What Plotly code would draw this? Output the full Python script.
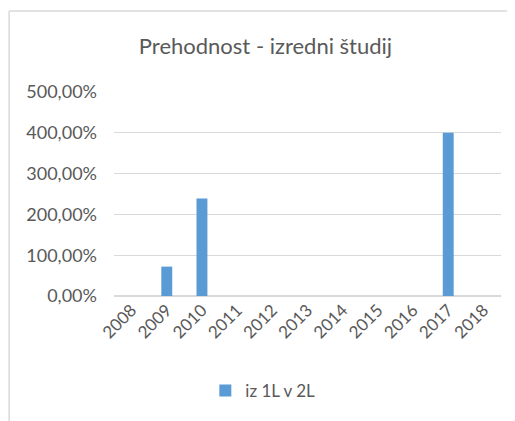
import plotly.graph_objects as go

# Data
years = ["2008", "2009", "2010", "2011", "2012", "2013", "2014", "2015", "2016", "2017", "2018"]
iz_1l_v_2l = [None, 0.72, 2.39, None, None, None, None, None, None, 4.0, None]
y_ticks = [0, 1, 2, 3, 4, 5]

title = "Prehodnost - izredni študij"
grey_text = "#595959"
grid = "#d9d9d9"

fig = go.Figure()
fig.add_trace(go.Bar(x=years, y=iz_1l_v_2l, name="iz 1L v 2L",
                     marker_color="#5b9bd5", marker_line_width=0))

fig.update_layout(
    width=515, height=421,
    margin=dict(l=106, r=22, t=84, b=133),
    paper_bgcolor="white", plot_bgcolor="white",
    font=dict(family="Lato, Open Sans, sans-serif", size=18, color=grey_text),
    separators=",.",
    bargap=0.69,
    title=dict(text=title, x=0.5, xanchor="center", y=1 - 38 / 421, yanchor="middle",
               yref="container", font=dict(size=22, color=grey_text)),
    showlegend=True,
    legend=dict(orientation="h", x=0.236, xanchor="left", y=-0.466, yanchor="middle",
                font=dict(size=17, color=grey_text)),
)

fig.update_yaxes(range=[0, 5], tickvals=y_ticks, tickformat=".2%",
                 showgrid=True, gridcolor=grid, gridwidth=1,
                 zeroline=True, zerolinecolor=grid, showline=False,
                 ticks="", ticklabelstandoff=16, automargin=False)
fig.update_xaxes(type="category", tickangle=-45, showgrid=False, showline=False,
                 ticks="", tickfont=dict(size=17), automargin=False)

# chart frame (left and top edges visible in the reference)
fig.add_shape(type="line", xref="paper", yref="paper", x0=-0.271, x1=1.2,
              y0=1.397, y1=1.397, line=dict(color=grid, width=1.5))
fig.add_shape(type="line", xref="paper", yref="paper", x0=-0.271, x1=-0.271,
              y0=1.397, y1=-1.0, line=dict(color=grid, width=1.5))

fig.write_html("out.html")
